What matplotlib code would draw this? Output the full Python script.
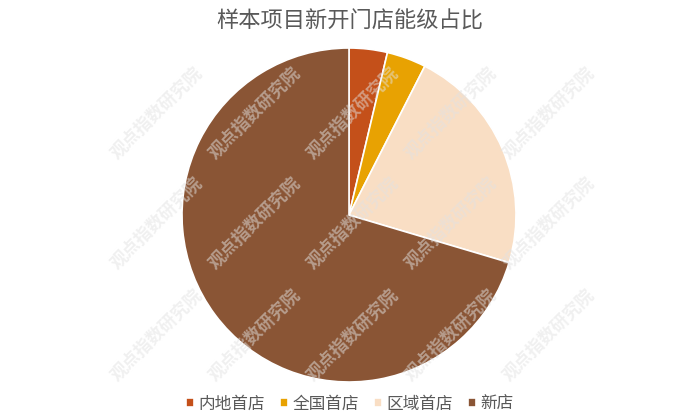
import matplotlib
matplotlib.use('Agg')
import matplotlib.pyplot as plt

plt.rcParams['font.family'] = ['Noto Sans CJK SC', 'DejaVu Sans']

title = '样本项目新开门店能级占比'
labels = ['内地首店', '全国首店', '区域首店', '新店']
shares = [3.7, 3.8, 22.1, 70.4]
colors = ['#C4501A', '#E8A202', '#F9DEC4', '#8A5535']
watermark = '观点指数研究院'

W, H = 700, 420
fig = plt.figure(figsize=(W / 100, H / 100), dpi=100)

# pie centre ~ (349, 215) px, radius ~ 167 px
cx, cy, r = 349, 215, 167
ax = fig.add_axes([(cx - r) / W, (H - cy - r) / H, 2 * r / W, 2 * r / H])
wedges, _ = ax.pie(shares, colors=colors, startangle=90, counterclock=False,
                   wedgeprops=dict(edgecolor='white', linewidth=1.2))
ax.set_xlim(-1, 1)
ax.set_ylim(-1, 1)
ax.set_aspect('equal')
ax.axis('off')

fig.text(0.5, 1 - 21 / H, title, ha='center', va='center',
         fontsize=16, color='#595959')

fig.legend(wedges, labels, loc='center', bbox_to_anchor=(0.5, 1 - 404 / H),
           ncol=4, frameon=False, fontsize=12, labelcolor='#595959',
           handlelength=0.45, handleheight=0.45, handletextpad=0.3,
           columnspacing=0.9)

# repeated watermark
for wy in [113, 223, 335]:
    for wx in [157, 255, 353, 451, 549]:
        fig.text(wx / W, 1 - wy / H, watermark, rotation=45,
                 ha='center', va='center', fontsize=12.5, fontweight='bold',
                 color='#e2e2e2', alpha=0.5, rotation_mode='anchor',
                 zorder=10)

fig.savefig('out.png', dpi=100)
